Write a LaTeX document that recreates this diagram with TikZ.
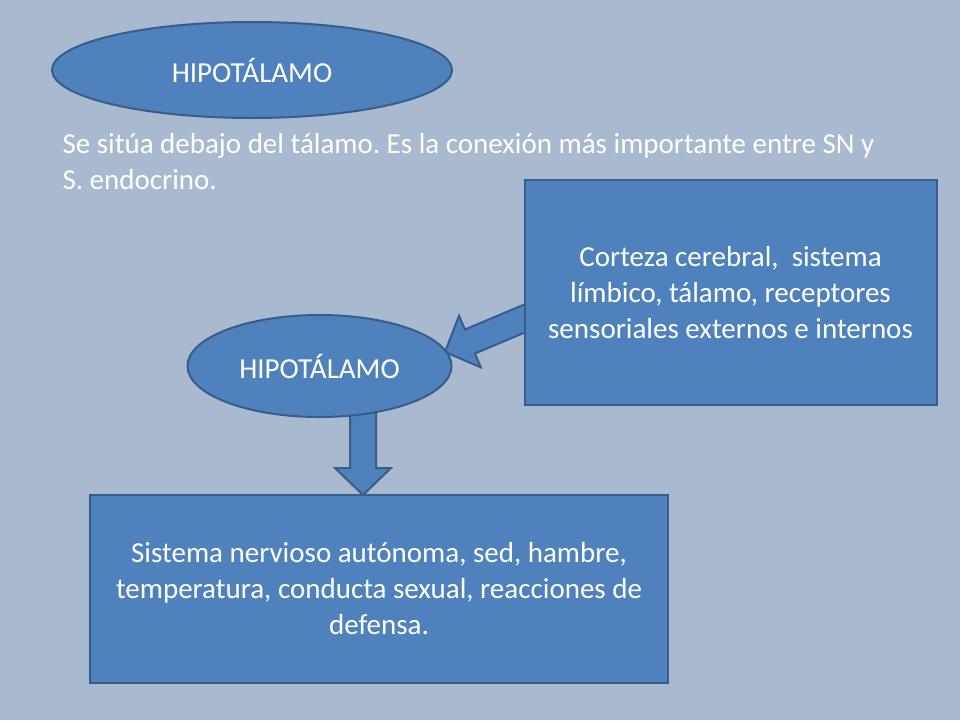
\documentclass[tikz,border=0pt]{standalone}
\usepackage{fontspec}
\setmainfont{Carlito}
\frenchspacing
\usetikzlibrary{shapes.geometric}
\usetikzlibrary{calc}
\definecolor{fondo}{RGB}{168,185,208}
\definecolor{relleno}{RGB}{79,129,189}
\definecolor{borde}{RGB}{56,93,138}
\tikzstyle{every node}=[font=\fontsize{29}{36}\selectfont,text=white]
\tikzstyle{forma}=[fill=relleno,draw=borde,line width=2pt]
\tikzstyle{elipse}=[forma,ellipse,inner sep=0pt]
\tikzstyle{caja}=[forma,rectangle,align=center]

% block arrow from #1 to the tip #2
\newcommand{\flecha}[2]{%
  \coordinate (h) at ($(#2)!27pt!(#1)$);
  \draw[forma,line join=miter]
    ($(#1)!13pt!90:(#2)$) -- ($(h)!13pt!-90:(#1)$) -- ($(h)!28pt!-90:(#1)$)
    -- (#2) -- ($(h)!28pt!90:(#1)$) -- ($(h)!13pt!90:(#1)$)
    -- ($(#1)!13pt!-90:(#2)$) -- cycle;}

\begin{document}
\begin{tikzpicture}[x=1pt,y=-1pt]
    \fill[fondo] (0,0) rectangle (960,720);
    \useasboundingbox (0,0) rectangle (960,720);

    % Define named coordinates for the arrows
    \coordinate (FromBox) at (540,312);
    \coordinate (ToHipo) at (445,352);
    \coordinate (FromHipo) at (363,400);
    \coordinate (ToEfectos) at (363,495);

    % Arrows (behind the shapes)
    \flecha{FromBox}{ToHipo}
    \flecha{FromHipo}{ToEfectos}

    % Title and text
    \node[elipse,minimum width=400,minimum height=96] (titulo) at (252,70) {HIPOTÁLAMO};
    \node[anchor=west,align=left] (texto) at (59,162)
    {Se sitúa debajo del tálamo. Es la conexión más importante entre SN y\\S. endocrino.};

    % Boxes and the second ellipse
    \node[caja,minimum width=412,minimum height=225] (entradas) at (730.5,292.5)
    {Corteza cerebral,~ sistema\\límbico, tálamo, receptores\\sensoriales externos e internos};
    \node[elipse,minimum width=264,minimum height=102] (hipo) at (319.5,366) {HIPOTÁLAMO};
    \node[caja,minimum width=578,minimum height=188] (efectos) at (379,589)
    {Sistema nervioso autónoma, sed, hambre,\\temperatura, conducta sexual, reacciones de\\defensa.};
\end{tikzpicture}
\end{document}
